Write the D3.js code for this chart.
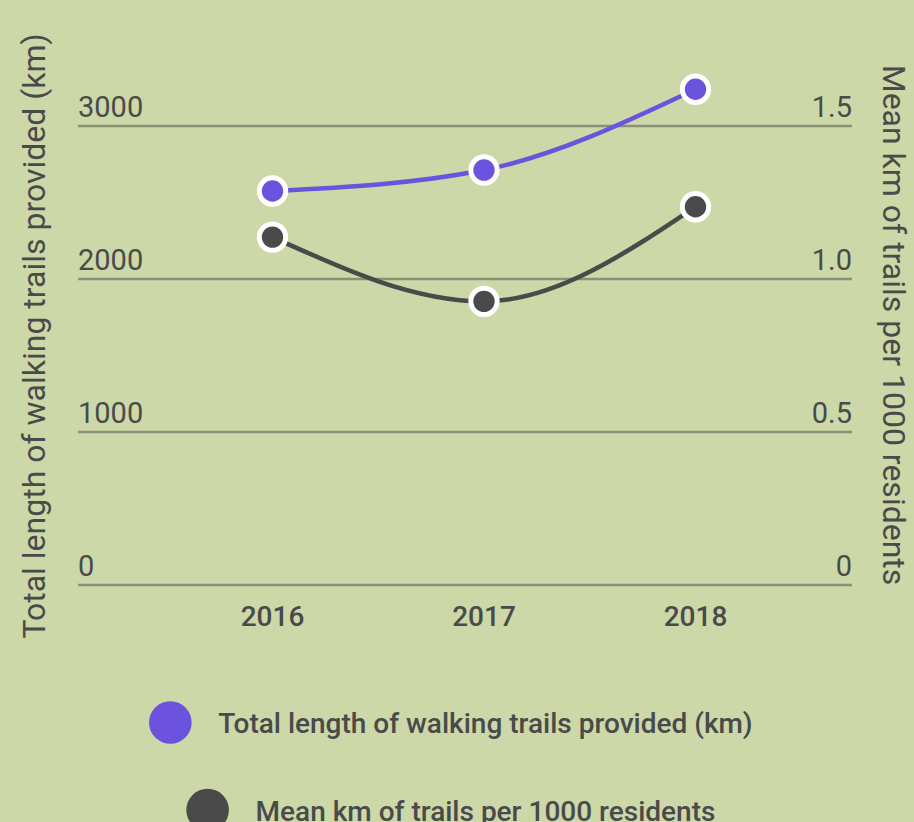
<!DOCTYPE html>
<html>
<head>
<meta charset="utf-8">
<script src="https://cdn.jsdelivr.net/npm/d3@7"></script>
<style>
  html, body { margin: 0; padding: 0; background: #ccd8a7; }
  svg { display: block; font-family: Roboto, "Noto Sans", sans-serif; }
</style>
</head>
<body>
<svg id="chart"></svg>
<script>
var width = 914, height = 822;

// data
var years = ['2016', '2017', '2018'];
var totalLength = [2575, 2712, 3240];
var meanPer1000 = [1.137, 0.927, 1.236];
var leftTicks = [0, 1000, 2000, 3000];
var rightTicks = [0, 0.5, 1.0, 1.5];
var seriesNames = ['Total length of walking trails provided (km)', 'Mean km of trails per 1000 residents'];
var seriesColors = ['#6c53dd', '#4a4a4a'];

var textColor = '#4a4a4a';
var gridColor = '#8a9175';

var plotLeft = 78, plotRight = 852;
var plotTop = 126, plotBottom = 585;

var svg = d3.select('#chart')
    .attr('width', width)
    .attr('height', height);

var x = d3.scalePoint()
    .domain(years)
    .range([61, 907])
    .padding(1);

var yLeft = d3.scaleLinear()
    .domain([0, 3000]).range([plotBottom, plotTop]);

var yRight = d3.scaleLinear()
    .domain([0, 1.5]).range([plotBottom, plotTop]);

// gridlines + tick labels on both sides
var grid = svg.append('g');
grid.selectAll('line')
    .data(leftTicks)
    .join('line')
    .attr('x1', plotLeft).attr('x2', plotRight)
    .attr('y1', d => yLeft(d)).attr('y2', d => yLeft(d))
    .attr('stroke', gridColor)
    .attr('stroke-width', 2.5);

grid.selectAll('text.left')
    .data(leftTicks)
    .join('text')
    .attr('class', 'left')
    .attr('x', plotLeft)
    .attr('y', d => yLeft(d) - 9)
    .attr('fill', textColor)
    .style('font-size', '29px')
    .text(d => d);

grid.selectAll('text.right')
    .data(rightTicks)
    .join('text')
    .attr('class', 'right')
    .attr('x', plotRight)
    .attr('y', d => yRight(d) - 9)
    .attr('text-anchor', 'end')
    .attr('fill', textColor)
    .style('font-size', '29px')
    .text(d => d === 0 ? '0' : d.toFixed(1));

// x axis labels
svg.append('g').selectAll('text')
    .data(years)
    .join('text')
    .attr('x', d => x(d))
    .attr('y', 626)
    .attr('text-anchor', 'middle')
    .attr('fill', textColor)
    .style('font-size', '28px')
    .style('font-weight', 500)
    .text(d => d);

// axis titles
svg.append('text')
    .attr('transform', 'translate(45,' + 336 + ') rotate(-90)')
    .attr('text-anchor', 'middle')
    .attr('fill', textColor)
    .style('font-size', '32px')
    .text(seriesNames[0]);

svg.append('text')
    .attr('transform', 'translate(883,' + 325 + ') rotate(90)')
    .attr('text-anchor', 'middle')
    .attr('fill', textColor)
    .style('font-size', '32px')
    .text(seriesNames[1]);

// lines
var series = [
    { values: totalLength, scale: yLeft, color: seriesColors[0] },
    { values: meanPer1000, scale: yRight, color: seriesColors[1] }
];

series.forEach(function (s) {
    var line = d3.line()
        .x((d, i) => x(years[i]))
        .y(d => s.scale(d))
        .curve(d3.curveMonotoneX);

    svg.append('path')
        .datum(s.values)
        .attr('d', line)
        .attr('fill', 'none')
        .attr('stroke', s.color)
        .attr('stroke-width', 4.5);

    svg.append('g').selectAll('circle')
        .data(s.values)
        .join('circle')
        .attr('cx', (d, i) => x(years[i]))
        .attr('cy', d => s.scale(d))
        .attr('r', 13.2)
        .attr('fill', s.color)
        .attr('stroke', '#fff')
        .attr('stroke-width', 5);
});

// legend, each row centred
var legendRows = [
    { y: 722.5, color: seriesColors[0], label: seriesNames[0] },
    { y: 810, color: seriesColors[1], label: seriesNames[1] }
];

legendRows.forEach(function (row) {
    var g = svg.append('g');
    var t = g.append('text')
        .attr('y', row.y + 10.5)
        .attr('fill', textColor)
        .style('font-size', '28px')
        .style('font-weight', 500)
        .text(row.label);
    var tw = t.node().getComputedTextLength();
    var total = 42 + 27 + tw;
    var startX = 451 - total / 2;
    g.append('circle')
        .attr('cx', startX + 21)
        .attr('cy', row.y)
        .attr('r', 21.3)
        .attr('fill', row.color);
    t.attr('x', startX + 69);
});
</script>
</body>
</html>
